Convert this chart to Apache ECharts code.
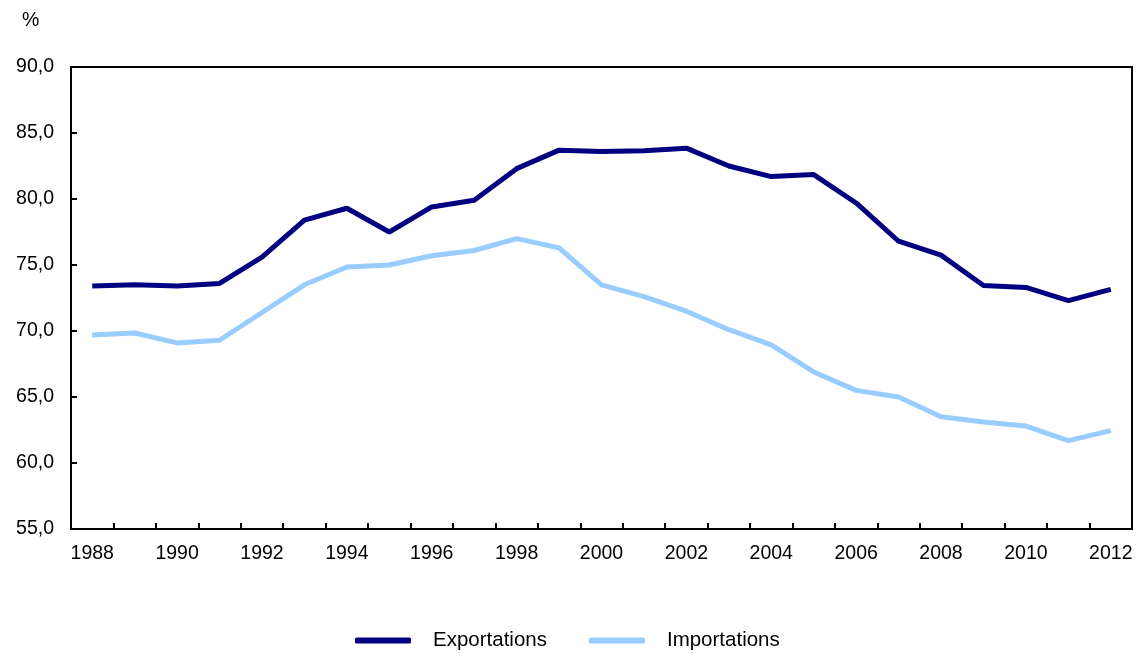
<!DOCTYPE html>
<html>
<head>
<meta charset="utf-8">
<script src="https://cdn.jsdelivr.net/npm/echarts@6/dist/echarts.min.js"></script>
<style>html,body{margin:0;padding:0;background:#fff;}#c{width:1139px;height:656px;}</style>
</head>
<body>
<div id="c"></div>
<script>
var years = ['1988','1989','1990','1991','1992','1993','1994','1995','1996','1997','1998','1999','2000','2001','2002','2003','2004','2005','2006','2007','2008','2009','2010','2011','2012'];
var exportations = [73.4,73.5,73.4,73.6,75.6,78.4,79.3,77.5,79.4,79.9,82.3,83.7,83.6,83.65,83.85,82.5,81.7,81.85,79.7,76.8,75.75,73.45,73.3,72.3,73.15];
var importations = [69.7,69.85,69.1,69.3,71.4,73.5,74.85,75.0,75.7,76.1,77.0,76.3,73.5,72.6,71.5,70.1,68.95,66.9,65.5,65.0,63.5,63.1,62.8,61.7,62.45];
var yTicks = {min:55, max:90, interval:5};

var font = '"Liberation Sans", Arial, sans-serif';
var chart = echarts.init(document.getElementById('c'));
chart.setOption({
  animation: false,
  backgroundColor: '#fff',
  textStyle: {fontFamily: font, color: '#000'},
  title: {text: '%', left: 17, top: 6, textStyle: {fontFamily: font, fontSize: 19.5, fontWeight: 'normal', color: '#000'}},
  grid: {left: 71, right: 7, top: 67, bottom: 127, show: true, borderColor: '#000', borderWidth: 2, containLabel: false},
  legend: {
    top: 630, left: 355, padding: 0, itemWidth: 56, itemHeight: 6, itemGap: 42, icon: 'roundRect',
    textStyle: {fontFamily: font, fontSize: 20.5, color: '#000', padding: [0,0,0,17]},
    data: ['Exportations','Importations']
  },
  xAxis: {
    type: 'category', data: years, boundaryGap: true,
    axisLine: {lineStyle: {color: '#000', width: 2}},
    axisTick: {show: true, inside: true, length: 6, interval: 0, lineStyle: {color: '#000', width: 2}},
    axisLabel: {interval: 1, fontSize: 19.5, color: '#000', fontFamily: font, margin: 15},
    splitLine: {show: false}
  },
  yAxis: {
    type: 'value', min: yTicks.min, max: yTicks.max, interval: yTicks.interval,
    axisLine: {show: true, lineStyle: {color: '#000', width: 2}},
    axisTick: {show: true, inside: true, length: 6, lineStyle: {color: '#000', width: 2}},
    axisLabel: {fontSize: 19.5, color: '#000', fontFamily: font, margin: 17, padding: [4,0,0,0], formatter: function(v){return v.toFixed(1).replace('.', ',');}},
    splitLine: {show: false}
  },
  series: [
    {name: 'Exportations', type: 'line', data: exportations, symbol: 'none', lineStyle: {color: '#000080', width: 5}, itemStyle: {color: '#000080'}},
    {name: 'Importations', type: 'line', data: importations, symbol: 'none', lineStyle: {color: '#99CCFF', width: 5}, itemStyle: {color: '#99CCFF'}}
  ]
});
</script>
</body>
</html>
